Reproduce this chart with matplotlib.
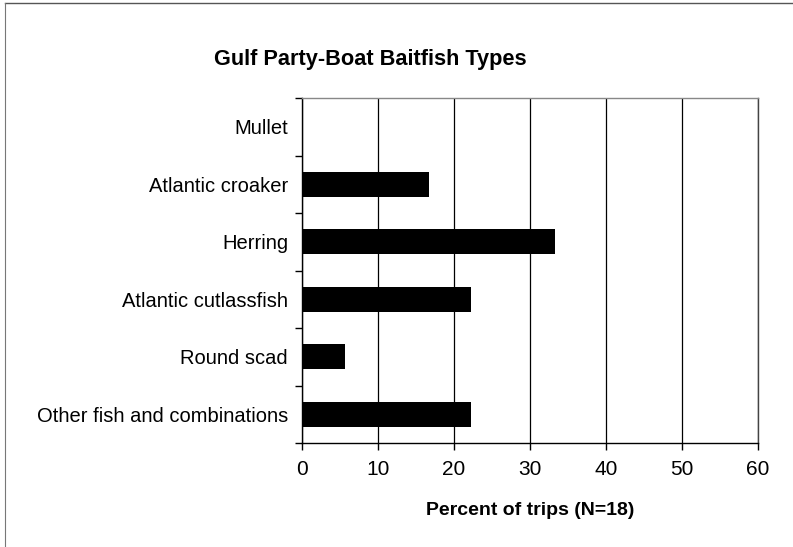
import matplotlib
matplotlib.use("Agg")
import matplotlib.pyplot as plt
import numpy as np

categories = ["Mullet", "Atlantic croaker", "Herring", "Atlantic cutlassfish",
              "Round scad", "Other fish and combinations"]
percent = [0.0, 16.7, 33.3, 22.2, 5.6, 22.2]
xticks = [0, 10, 20, 30, 40, 50, 60]

plt.rcParams["font.family"] = ["Liberation Sans", "DejaVu Sans"]

fig = plt.figure(figsize=(7.93, 5.47), dpi=100)
ax = fig.add_axes([302 / 793, 1 - 443 / 547, 456 / 793, 345 / 547])

y = np.arange(len(categories))
ax.barh(y, percent, height=0.44, color="black", zorder=3)
ax.set_ylim(len(categories) - 0.5, -0.5)
ax.set_xlim(0, 60)

ax.set_yticks(y)
ax.set_yticklabels(categories, fontsize=14.5)
ax.set_yticks(np.arange(len(categories) + 1) - 0.5, minor=True)
ax.tick_params(axis="y", which="major", length=0, pad=10)
ax.tick_params(axis="y", which="minor", length=5, direction="out", width=1)

ax.set_xticks(xticks)
ax.set_xticklabels([str(t) for t in xticks], fontsize=15)
ax.tick_params(axis="x", length=5, direction="out", width=1, pad=7)
ax.grid(axis="x", color="black", linewidth=0.9, zorder=0)

for s in ax.spines.values():
    s.set_linewidth(1.0)
ax.spines["top"].set_color("#888888")
ax.spines["right"].set_color("#444444")

ax.set_xlabel("Percent of trips (N=18)", fontsize=14, fontweight="bold", labelpad=17)
fig.text(370 / 793, 1 - 60 / 547, "Gulf Party-Boat Baitfish Types", fontsize=15.7,
         fontweight="bold", ha="center", va="center")

# outer frame of the chart area
fig.add_artist(plt.Line2D([5 / 793, 1], [1 - 3 / 547, 1 - 3 / 547], color="#555555", lw=1))
fig.add_artist(plt.Line2D([5 / 793, 5 / 793], [0, 1 - 3 / 547], color="#777777", lw=0.8))

fig.savefig("out.png", dpi=100)
